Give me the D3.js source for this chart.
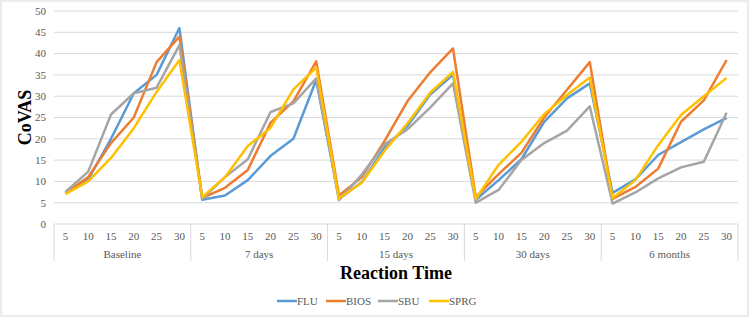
<!DOCTYPE html>
<html>
<head>
<meta charset="utf-8">
<script src="https://cdn.jsdelivr.net/npm/d3@7"></script>
<style>
  body { margin: 0; background: #fff; }
  svg text { font-family: "Liberation Serif", "Times New Roman", serif; }
</style>
</head>
<body>
<div id="chart"></div>
<script>
const GROUPS = ["Baseline", "7 days", "15 days", "30 days", "6 months"];
const TIMES = ["5", "10", "15", "20", "25", "30"];
const Y_TICKS = [0, 5, 10, 15, 20, 25, 30, 35, 40, 45, 50];

const FLU = [7.3, 10.5, 20, 30.7, 35, 46,
  5.7, 6.7, 10.3, 16, 20, 33.8,
  5.9, 9.8, 17.9, 23, 30.4, 35,
  5.7, 10.3, 15.2, 24, 29.5, 33,
  7.3, 10.5, 16.2, 19.2, 22.2, 24.9];
const BIOS = [7.2, 11, 19, 25, 38, 44,
  6.1, 8.5, 12.7, 23.8, 28.8, 38.2,
  6.7, 11, 19.5, 28.8, 35.6, 41.2,
  6.3, 11.7, 16.7, 25, 31.5, 38,
  5.9, 8.7, 13, 24, 29, 38.5];
const SBU = [7.5, 12.3, 25.7, 30.7, 32, 42,
  5.9, 11, 15.2, 26.3, 28.3, 34.2,
  5.6, 11.6, 18.7, 22.2, 27.3, 33,
  5, 8, 15, 19, 21.9, 27.6,
  4.8, 7.4, 10.7, 13.3, 14.6, 26.1];
const SPRG = [7, 10, 15.5, 22.5, 31, 38.5,
  6.3, 11, 18.3, 22.6, 31.6, 36.7,
  6, 9.7, 17.2, 23.6, 30.8, 35.7,
  5.9, 13.9, 19.3, 25.8, 30.3, 34.4,
  6.1, 10.3, 18.5, 25.6, 30, 34.3];

const SERIES = [
  { name: "FLU", values: FLU, color: "#5B9BD5" },
  { name: "BIOS", values: BIOS, color: "#ED7D31" },
  { name: "SBU", values: SBU, color: "#A5A5A5" },
  { name: "SPRG", values: SPRG, color: "#FFC000" },
];

var width = 750, height = 318;
var margin = { top: 11, right: 12, bottom: 94, left: 54 };
var plotW = width - margin.left - margin.right;
var plotH = height - margin.top - margin.bottom;

var svg = d3.select("#chart").append("svg")
  .attr("width", width)
  .attr("height", height);

// outer chart border
svg.append("rect")
  .attr("x", 1).attr("y", 1)
  .attr("width", width - 3).attr("height", height - 3)
  .attr("fill", "#fff")
  .attr("stroke", "#d9d9d9");

var g = svg.append("g")
  .attr("transform", "translate(" + margin.left + "," + margin.top + ")");

// one slot per (group, time)
var keys = [];
GROUPS.forEach(function (gr) {
  TIMES.forEach(function (t) { keys.push(gr + "|" + t); });
});

var x = d3.scaleBand().domain(keys).range([0, plotW]);
var xGroup = d3.scaleBand().domain(GROUPS).range([0, plotW]);
var y = d3.scaleLinear().domain([0, 50]).range([plotH, 0]);

// gridlines
g.selectAll("line.grid")
  .data(Y_TICKS)
  .enter().append("line")
  .attr("class", "grid")
  .attr("x1", 0).attr("x2", plotW)
  .attr("y1", function (d) { return y(d); })
  .attr("y2", function (d) { return y(d); })
  .attr("stroke", "#d9d9d9")
  .attr("stroke-width", 1);

// y tick labels
g.selectAll("text.ytick")
  .data(Y_TICKS)
  .enter().append("text")
  .attr("class", "ytick")
  .attr("x", -8)
  .attr("y", function (d) { return y(d); })
  .attr("dy", "0.35em")
  .attr("text-anchor", "end")
  .attr("font-size", "11px")
  .attr("fill", "#595959")
  .text(function (d) { return d; });

// group separators on the category axis
var sepBounds = GROUPS.map(function (gr) { return xGroup(gr); }).concat([plotW]);
g.selectAll("line.sep")
  .data(sepBounds)
  .enter().append("line")
  .attr("class", "sep")
  .attr("x1", function (d) { return d; })
  .attr("x2", function (d) { return d; })
  .attr("y1", plotH)
  .attr("y2", plotH + 37)
  .attr("stroke", "#d9d9d9");

// time tick labels
g.selectAll("text.xtick")
  .data(keys)
  .enter().append("text")
  .attr("class", "xtick")
  .attr("x", function (d) { return x(d) + x.bandwidth() / 2; })
  .attr("y", plotH + 16)
  .attr("text-anchor", "middle")
  .attr("font-size", "11px")
  .attr("fill", "#595959")
  .text(function (d) { return d.split("|")[1]; });

// group labels
g.selectAll("text.group")
  .data(GROUPS)
  .enter().append("text")
  .attr("class", "group")
  .attr("x", function (d) { return xGroup(d) + xGroup.bandwidth() / 2; })
  .attr("y", plotH + 34)
  .attr("text-anchor", "middle")
  .attr("font-size", "11px")
  .attr("fill", "#595959")
  .text(function (d) { return d; });

// lines
var line = d3.line()
  .x(function (d, i) { return x(keys[i]) + x.bandwidth() / 2; })
  .y(function (d) { return y(d); });

SERIES.forEach(function (s) {
  g.append("path")
    .datum(s.values)
    .attr("fill", "none")
    .attr("stroke", s.color)
    .attr("stroke-width", 2.5)
    .attr("stroke-linejoin", "round")
    .attr("d", line);
});

// axis titles
svg.append("text")
  .attr("x", 396)
  .attr("y", 279)
  .attr("text-anchor", "middle")
  .attr("font-size", "18px")
  .attr("font-weight", "bold")
  .attr("fill", "#000")
  .text("Reaction Time");

svg.append("text")
  .attr("transform", "translate(31," + (margin.top + plotH / 2) + ") rotate(-90)")
  .attr("text-anchor", "middle")
  .attr("font-size", "18px")
  .attr("font-weight", "bold")
  .attr("fill", "#000")
  .text("CoVAS");

// legend
var legendX = [277, 326, 378, 429];
var legend = svg.append("g");
SERIES.forEach(function (s, i) {
  legend.append("line")
    .attr("x1", legendX[i]).attr("x2", legendX[i] + 20)
    .attr("y1", 301).attr("y2", 301)
    .attr("stroke", s.color)
    .attr("stroke-width", 2.5);
  legend.append("text")
    .attr("x", legendX[i] + 20)
    .attr("y", 301)
    .attr("dy", "0.35em")
    .attr("font-size", "11px")
    .attr("fill", "#595959")
    .text(s.name);
});
</script>
</body>
</html>
